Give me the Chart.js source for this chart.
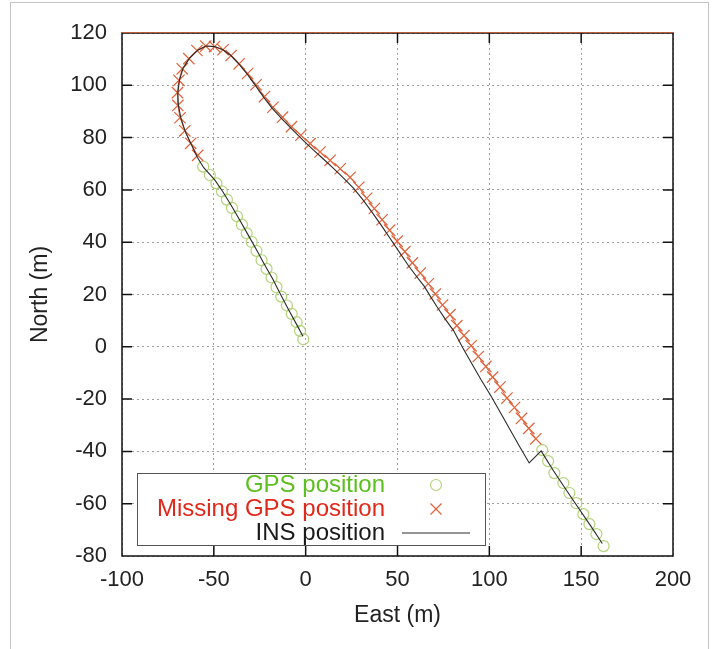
<!DOCTYPE html>
<html>
<head>
<meta charset="utf-8">
<script src="https://cdn.jsdelivr.net/npm/chart.js@4.4.1/dist/chart.umd.min.js"></script>
<style>
  html, body { margin: 0; padding: 0; background: #fff; overflow: hidden; }
  #wrap { position: relative; width: 715px; height: 649px; }
  #edge { position: absolute; left: 10px; top: 2px; width: 697px; height: 700px; border: 1px solid #c4c4c4; border-bottom: none; }
  #trackChart { position: absolute; left: 0; top: 0; }
</style>
</head>
<body>
<div id="wrap">
  <div id="edge"></div>
  <canvas id="trackChart" width="715" height="649"></canvas>
</div>
<script>
// tick labels
const xTicks = [-100, -50, 0, 50, 100, 150, 200];
const yTicks = [-80, -60, -40, -20, 0, 20, 40, 60, 80, 100, 120];

// GPS fixes (two stretches with signal)
const gpsEast = [-1.3, -3.1, -4.9, -7.6, -10.2, -13.3, -15.9, -18.6, -21.3, -24, -26.8, -29.4, -32.1, -34.7, -37.4, -40.1, -42.9, -45.6, -48.6, -52.2, -55.8,
                 128.8, 132, 135.4, 140.3, 143.6, 147.4, 151.2, 154.5, 158.3, 162.2];
const gpsNorth = [2.9, 6.1, 9.4, 12.6, 15.8, 19.2, 22.8, 26.5, 29.8, 33.1, 36.7, 40.1, 43.4, 46.7, 49.9, 53.1, 56.3, 59.4, 62.5, 65.7, 68.9,
                  -39.5, -43.7, -48.3, -52.1, -55.9, -59.8, -64, -67.8, -71.6, -76.2];

// positions where GPS was missing
const missEast = [-58.8, -62.6, -65.8, -68.4, -69.6, -69.8, -69, -67.2, -63.6, -59.2, -54.4, -49.6, -45, -40.6, -36.2, -31.6, -27, -22.4, -17.8, -12.6,
                  -7.7, -2.6, 2.4, 7.8, 13.3, 18.8, 24.2, 28.9, 33.2, 37.4, 41.6, 45.7, 49.8, 54, 58.1, 62.4, 66.8, 70.6, 74.5, 78.6,
                  82.3, 86.2, 90.1, 94, 98.1, 101.8, 105.8, 109.6, 113.7, 117.5, 121.5, 125.3];
const missNorth = [73.2, 77.8, 82.6, 87.6, 92.3, 97.2, 101.9, 106.3, 110.2, 113.3, 115, 114.8, 113.6, 111.4, 108.2, 104.5, 100.2, 95.7, 91.6, 87.8,
                   84.2, 80.9, 77.7, 74.5, 71.3, 68.1, 64.8, 61, 56.8, 52.9, 48.6, 44.6, 40.4, 36.4, 32.1, 28.2, 24.1, 20.2, 16, 12.3,
                   8.1, 4.3, 0.4, -3.7, -7.5, -11.6, -15.4, -19.6, -23.2, -27.4, -31.2, -35.2];

// INS solution
const insEast = [-1.5, -4.5, -9, -13.5, -18, -22.5, -27, -31.5, -36, -40.5, -45, -49.5, -55.5, -59, -62, -65.5, -68, -69.3, -69.6, -68.7,
                 -66.8, -63.3, -58.8, -54.2, -49.6, -45, -40.6, -36.2, -31.7, -27.2, -22.7, -18.2, -12.8, -7.5, -1.5, 4, 9.5, 15, 20.5, 26,
                 31, 36, 41, 46, 51, 56, 60.5, 64.5, 68, 71.5, 76, 80.6, 85.5, 90.5, 95.5, 100.9, 106, 111, 116.3, 121.7,
                 128.2, 135, 145, 155, 161.5];
const insNorth = [4, 8, 13.8, 19.8, 26, 31.6, 37.4, 43, 48.6, 54, 59.2, 63.8, 68.5, 72.5, 77, 82.2, 87.6, 92.4, 97.3, 102,
                  106.4, 110.3, 113.4, 115, 114.8, 113.6, 111.3, 108, 104.2, 99.8, 95.3, 91.2, 87.1, 83.2, 79, 75.4, 71.9, 68.3, 64.6, 60.7,
                  56.4, 51.6, 46.6, 41.4, 36.2, 31, 26.8, 23.2, 19.2, 15.3, 10.6, 6.1, -0.4, -6.5, -12.6, -18.8, -25.1, -31.3, -37.9, -44.4,
                  -39.8, -47.5, -58, -68.3, -75.2];

function toPoints(east, north) {
  return east.map((e, i) => ({ x: e, y: north[i] }));
}

const FONT = "'Liberation Sans', Arial, Helvetica, sans-serif";
const gpsColor = "#b3d47c";
const missColor = "#e2623a";
const insColor = "#2a2a2a";

// frame, inside tick marks and the legend box
const framePlugin = {
  id: "frame",
  afterDraw(chart) {
    const { ctx, chartArea: a, scales } = chart;
    const x = scales.x, y = scales.y;
    ctx.save();
    ctx.strokeStyle = "#111";
    ctx.lineWidth = 1.5;
    ctx.strokeRect(a.left, a.top, a.right - a.left, a.bottom - a.top);
    ctx.beginPath();
    xTicks.slice(1, -1).forEach(v => {
      const px = x.getPixelForValue(v);
      ctx.moveTo(px, a.bottom); ctx.lineTo(px, a.bottom - 10);
      ctx.moveTo(px, a.top); ctx.lineTo(px, a.top + 10);
    });
    yTicks.slice(1, -1).forEach(v => {
      const py = y.getPixelForValue(v);
      ctx.moveTo(a.left, py); ctx.lineTo(a.left + 10, py);
      ctx.moveTo(a.right, py); ctx.lineTo(a.right - 10, py);
    });
    ctx.stroke();
    // top edge has an orange tint in the original
    ctx.strokeStyle = "rgba(220,100,50,0.8)";
    ctx.lineWidth = 1;
    ctx.beginPath();
    ctx.moveTo(a.left, a.top - 0.5); ctx.lineTo(a.right, a.top - 0.5);
    ctx.stroke();

    // legend
    const box = { l: 137, t: 473, r: 485, b: 545 };
    ctx.fillStyle = "#fff";
    ctx.fillRect(box.l, box.t, box.r - box.l, box.b - box.t);
    ctx.strokeStyle = "#555";
    ctx.lineWidth = 1;
    ctx.strokeRect(box.l + 0.5, box.t + 0.5, box.r - box.l, box.b - box.t);

    const rows = [
      { text: chart.data.datasets[2].label, color: "#5cbf1e", y: 485 },
      { text: chart.data.datasets[1].label, color: "#e0281a", y: 509 },
      { text: chart.data.datasets[0].label, color: "#1a1a1a", y: 533 }
    ];
    ctx.font = "24px " + FONT;
    ctx.textAlign = "right";
    ctx.textBaseline = "middle";
    rows.forEach(r => {
      ctx.fillStyle = r.color;
      ctx.fillText(r.text, 385, r.y);
    });
    // symbols
    ctx.lineWidth = 1.2;
    ctx.strokeStyle = gpsColor;
    ctx.beginPath();
    ctx.arc(436, 485, 5.5, 0, Math.PI * 2);
    ctx.stroke();
    ctx.strokeStyle = missColor;
    ctx.beginPath();
    ctx.moveTo(430.5, 503.5); ctx.lineTo(441.5, 514.5);
    ctx.moveTo(441.5, 503.5); ctx.lineTo(430.5, 514.5);
    ctx.stroke();
    ctx.strokeStyle = insColor;
    ctx.lineWidth = 1;
    ctx.beginPath();
    ctx.moveTo(402, 533); ctx.lineTo(470, 533);
    ctx.stroke();
    ctx.restore();
  }
};

const ctx = document.getElementById("trackChart").getContext("2d");
new Chart(ctx, {
  type: "scatter",
  data: {
    datasets: [
      {
        label: "INS position",
        data: toPoints(insEast, insNorth),
        showLine: true,
        borderColor: insColor,
        borderWidth: 1.1,
        pointRadius: 0,
        tension: 0,
        order: 0
      },
      {
        label: "Missing GPS position",
        data: toPoints(missEast, missNorth),
        showLine: true,
        borderColor: missColor,
        borderWidth: 1,
        pointStyle: "crossRot",
        pointRadius: 8,
        pointBorderWidth: 1.2,
        pointBorderColor: missColor,
        order: 1
      },
      {
        label: "GPS position",
        data: toPoints(gpsEast, gpsNorth),
        showLine: false,
        pointStyle: "circle",
        pointRadius: 5.5,
        pointBorderWidth: 1.2,
        pointBorderColor: gpsColor,
        pointBackgroundColor: "rgba(0,0,0,0)",
        order: 2
      }
    ]
  },
  options: {
    responsive: false,
    animation: false,
    events: [],
    layout: { padding: { left: 0, right: 42, top: 33, bottom: 0 } },
    plugins: {
      legend: { display: false },
      tooltip: { enabled: false }
    },
    scales: {
      x: {
        type: "linear",
        min: -100,
        max: 200,
        afterBuildTicks: s => { s.ticks = xTicks.map(v => ({ value: v })); },
        afterFit: s => { s.height = 93; },
        ticks: {
          padding: 11,
          color: "#222",
          font: { family: FONT, size: 22 },
          callback: v => String(v)
        },
        grid: { color: "#a0a0a0", lineWidth: 1, drawTicks: false },
        border: { display: false, dash: [2, 3] },
        title: {
          display: true,
          text: "East (m)",
          color: "#222",
          font: { family: FONT, size: 23 },
          padding: { top: 0, bottom: 20 }
        }
      },
      y: {
        type: "linear",
        min: -80,
        max: 120,
        afterBuildTicks: s => { s.ticks = yTicks.map(v => ({ value: v })); },
        afterFit: s => { s.width = 122; },
        ticks: {
          padding: 15,
          color: "#222",
          font: { family: FONT, size: 22 },
          callback: v => String(v)
        },
        grid: { color: "#a0a0a0", lineWidth: 1, drawTicks: false },
        border: { display: false, dash: [2, 3] },
        title: {
          display: true,
          text: "North (m)",
          color: "#222",
          font: { family: FONT, size: 23 },
          padding: { top: 27, bottom: 0 }
        }
      }
    }
  },
  plugins: [framePlugin]
});
</script>
</body>
</html>
